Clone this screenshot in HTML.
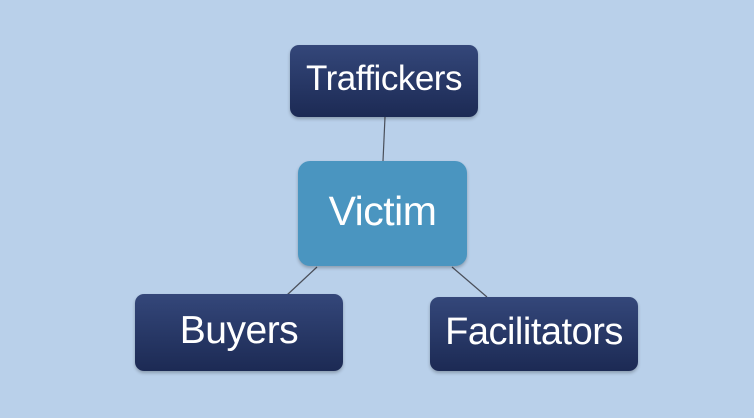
<!DOCTYPE html>
<html><head><style>
body{margin:0;width:754px;height:418px;background:#b9d0ea;position:relative;overflow:hidden;font-family:"Liberation Sans",sans-serif;}
.b{position:absolute;border-radius:9px;color:#fff;display:flex;align-items:center;justify-content:center;background:linear-gradient(#34477a,#1c2a54);box-shadow:0 2px 3px rgba(0,0,0,0.25);letter-spacing:-0.5px;}
</style></head><body>
<svg width="754" height="418" style="position:absolute;left:0;top:0">
<g stroke="#4a4f5a" stroke-width="1.2">
<line x1="385" y1="117" x2="383" y2="161"/>
<line x1="317" y1="267" x2="287" y2="295"/>
<line x1="452" y1="267" x2="487" y2="297"/>
</g></svg>
<div class="b" style="left:290px;top:45px;width:188px;height:68px;padding-bottom:4px;font-size:35px;">Traffickers</div>
<div class="b" style="left:298px;top:161px;width:169px;height:100px;padding-bottom:5px;font-size:41px;background:#4a95c0;border-radius:12px;">Victim</div>
<div class="b" style="left:135px;top:294px;width:208px;height:73px;padding-bottom:4px;font-size:39px;">Buyers</div>
<div class="b" style="left:430px;top:297px;width:208px;height:70px;padding-bottom:4px;font-size:38px;">Facilitators</div>
</body></html>
